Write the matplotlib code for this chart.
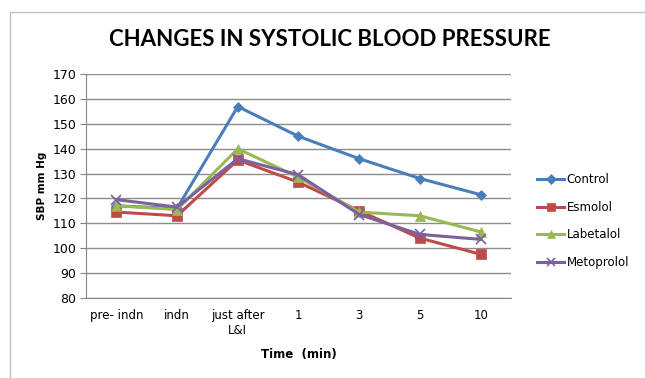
import matplotlib
matplotlib.use("Agg")
import matplotlib.pyplot as plt
from matplotlib.patches import Rectangle

categories = ["pre- indn", "indn", "just after\nL&I", "1", "3", "5", "10"]
control = [117, 116, 157, 145, 136, 128, 121.5]
esmolol = [114.5, 113, 135.5, 126.5, 115, 104, 97.5]
labetalol = [117, 115.5, 140, 128.5, 114.5, 113, 106.5]
metoprolol = [119.5, 116.5, 136, 129.5, 113.5, 105.5, 103.5]

series = [
    ("Control", control, "#4A7EBB", "D", 5.5),
    ("Esmolol", esmolol, "#BE4B48", "s", 6.5),
    ("Labetalol", labetalol, "#98B954", "^", 7),
    ("Metoprolol", metoprolol, "#7D60A0", "x", 7),
]

fig = plt.figure(figsize=(6.45, 3.78), dpi=100)
fig.patches.append(Rectangle((10 / 645, -0.1), 1.2, 1.1 - 12 / 378,
                             transform=fig.transFigure, fill=False,
                             edgecolor="#BFBFBF", linewidth=1.0))

ax = fig.add_axes([86 / 645, 1 - 297.7 / 378, 425 / 645, (297.7 - 74.3) / 378])
x = list(range(len(categories)))
for name, vals, color, marker, ms in series:
    ax.plot(x, vals, color=color, linewidth=2.2, marker=marker, markersize=ms,
            markeredgewidth=1.2 if marker == "x" else 0.5,
            markeredgecolor=color, label=name)

ax.set_xlim(-0.5, len(categories) - 0.5)
ax.set_ylim(80, 170)
ax.set_yticks(range(80, 171, 10))
ax.set_xticks(x)
ax.set_xticklabels(categories, fontsize=8.5, fontfamily="DejaVu Sans")
ax.tick_params(axis="x", length=0, pad=8, colors="#000000")
ax.tick_params(axis="y", length=4, color="#868686", labelsize=9, pad=3)
for lab in ax.get_yticklabels():
    lab.set_fontfamily("DejaVu Sans")
ax.grid(axis="y", color="#8C8C8C", linewidth=1.0)
ax.set_axisbelow(True)
for side in ("top", "right"):
    ax.spines[side].set_visible(False)
ax.spines["left"].set_color("#868686")
ax.spines["bottom"].set_color("#868686")

ax.set_ylabel("SBP mm Hg", fontsize=7.5, fontweight="bold", labelpad=4)
ax.set_xlabel("Time  (min)", fontsize=8.5, fontweight="bold", labelpad=8)

fig.text(330 / 645, 1 - 40 / 378, "CHANGES IN SYSTOLIC BLOOD PRESSURE",
         ha="center", va="center", fontsize=16, fontweight="bold",
         fontfamily="Lato")

leg = ax.legend(loc="center left", bbox_to_anchor=(1.05, 0.343), frameon=False,
                fontsize=8.5, handlelength=2.3, handletextpad=0.2,
                labelspacing=1.25, borderaxespad=0, markerscale=0.85)

fig.savefig("out.png", dpi=100)
